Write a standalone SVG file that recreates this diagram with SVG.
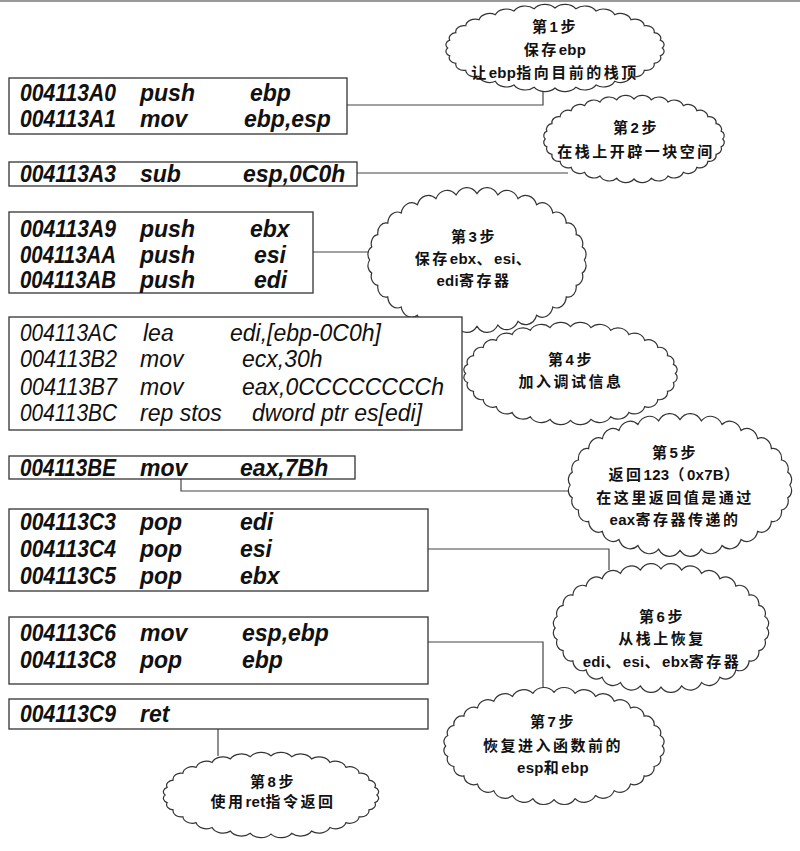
<svg xmlns="http://www.w3.org/2000/svg" xmlns:xlink="http://www.w3.org/1999/xlink" width="800" height="851" viewBox="0 0 800 851">
  <style>
    .box { fill: #fff; stroke: #333; stroke-width: 1.3; }
    .code { font-family: "Liberation Sans", Arial, sans-serif; font-size: 23px; font-style: italic; font-weight: bold; fill: #111; }
    .code.plain { font-weight: normal; }
    .note { font-family: "Liberation Sans", "Noto Sans CJK SC", sans-serif; font-size: 15px; font-weight: bold; fill: #111; text-anchor: middle; letter-spacing: 2.5px; }
    .lat { letter-spacing: 0.3px; }
    .wire { fill: none; stroke: #444; stroke-width: 1.2; }
    .cloud { fill: #fff; stroke: #333; stroke-width: 1.2; vector-effect: non-scaling-stroke; }
  </style>
  <defs>
    <!-- scalloped cloud outline, centred on 0,0, roughly 205 x 110 -->
    <path id="cloud" class="cloud" d="M100,0 A6.2,6.2 0 0 1 98.1,9.8 A6.8,6.8 0 0 1 92.4,19.1 A7.6,7.6 0 0 1 83.2,27.8 A9,9 0 0 1 70.7,35.4 A10,10 0 0 1 55.6,41.6 A11,11 0 0 1 38.3,46.2 A11.8,11.8 0 0 1 19.5,49 A12,12 0 0 1 0,50 A12,12 0 0 1 -19.5,49 A11.8,11.8 0 0 1 -38.3,46.2 A11,11 0 0 1 -55.6,41.6 A10,10 0 0 1 -70.7,35.4 A9,9 0 0 1 -83.2,27.8 A7.6,7.6 0 0 1 -92.4,19.1 A6.8,6.8 0 0 1 -98.1,9.8 A6.2,6.2 0 0 1 -100,0 A6.2,6.2 0 0 1 -98.1,-9.8 A6.8,6.8 0 0 1 -92.4,-19.1 A7.6,7.6 0 0 1 -83.2,-27.8 A9,9 0 0 1 -70.7,-35.4 A10,10 0 0 1 -55.6,-41.6 A11,11 0 0 1 -38.3,-46.2 A11.8,11.8 0 0 1 -19.5,-49 A12,12 0 0 1 0,-50 A12,12 0 0 1 19.5,-49 A11.8,11.8 0 0 1 38.3,-46.2 A11,11 0 0 1 55.6,-41.6 A10,10 0 0 1 70.7,-35.4 A9,9 0 0 1 83.2,-27.8 A7.6,7.6 0 0 1 92.4,-19.1 A6.8,6.8 0 0 1 98.1,-9.8 A6.2,6.2 0 0 1 100,0 Z"/>
  </defs>

  <rect width="800" height="851" fill="#fff"/>
  <line x1="0" y1="1" x2="800" y2="1" stroke="#999" stroke-width="2"/>

  <!-- connectors -->
  <g id="connectors">
    <path class="wire" d="M347,105 H543 V90"/>
    <path class="wire" d="M357,173 H568"/>
    <path class="wire" d="M313,252 H372"/>
    <path class="wire" d="M181,479 V491 H575"/>
    <path class="wire" d="M428,549 H609 V570"/>
    <path class="wire" d="M428,642 H543 V692"/>
    <path class="wire" d="M218,729 V756"/>
  </g>

  <!-- step notes -->
  <g id="step1">
    <use xlink:href="#cloud" transform="translate(555,48) scale(1.073,0.8)"/>
    <text class="note" x="555" y="32">第1步</text>
    <text class="note" x="555" y="55">保存<tspan class="lat">ebp</tspan></text>
    <text class="note" x="555" y="78">让<tspan class="lat">ebp</tspan>指向目前的栈顶</text>
  </g>
  <g id="step2">
    <use xlink:href="#cloud" transform="translate(634,139) scale(0.888,0.8)"/>
    <text class="note" x="636" y="133">第2步</text>
    <text class="note" x="636" y="157">在栈上开辟一块空间</text>
  </g>
  <g id="step3">
    <use xlink:href="#cloud" transform="translate(477,260) scale(1.073,1.327)"/>
    <text class="note" x="474" y="242">第3步</text>
    <text class="note" x="474" y="264">保存<tspan class="lat">ebx</tspan>、<tspan class="lat">esi</tspan>、</text>
    <text class="note" x="474" y="286"><tspan class="lat">edi</tspan>寄存器</text>
  </g>
  <g id="step4">
    <use xlink:href="#cloud" transform="translate(570.5,373.5) scale(1.049,0.936)"/>
    <text class="note" x="571" y="365">第4步</text>
    <text class="note" x="571" y="387">加入调试信息</text>
  </g>
  <g id="step5">
    <use xlink:href="#cloud" transform="translate(680,485) scale(1.098,1.309)"/>
    <text class="note" x="675" y="458">第5步</text>
    <text class="note" x="675" y="480">返回<tspan class="lat">123</tspan>（<tspan class="lat">0x7B</tspan>）</text>
    <text class="note" x="675" y="503">在这里返回值是通过</text>
    <text class="note" x="675" y="525"><tspan class="lat">eax</tspan>寄存器传递的</text>
  </g>
  <g id="step6">
    <use xlink:href="#cloud" transform="translate(661,628) scale(1.059,1.182)"/>
    <text class="note" x="662" y="622">第6步</text>
    <text class="note" x="662" y="644">从栈上恢复</text>
    <text class="note" x="662" y="667"><tspan class="lat">edi</tspan>、<tspan class="lat">esi</tspan>、<tspan class="lat">ebx</tspan>寄存器</text>
  </g>
  <g id="step7">
    <use xlink:href="#cloud" transform="translate(554,746) scale(1.083,1.073)"/>
    <text class="note" x="553" y="727">第7步</text>
    <text class="note" x="553" y="751">恢复进入函数前的</text>
    <text class="note" x="553" y="773"><tspan class="lat">esp</tspan>和<tspan class="lat">ebp</tspan></text>
  </g>
  <g id="step8">
    <use xlink:href="#cloud" transform="translate(271,795) scale(1.059,0.782)"/>
    <text class="note" x="273" y="787">第8步</text>
    <text class="note" x="273" y="807">使用<tspan class="lat">ret</tspan>指令返回</text>
  </g>

  <!-- instruction blocks -->
  <g id="block-prologue">
    <rect class="box" x="9" y="78" width="338" height="56"/>
    <text class="code" x="20" y="101" textLength="96" lengthAdjust="spacingAndGlyphs">004113A0</text><text class="code" x="140" y="101">push</text><text class="code" x="250" y="101">ebp</text>
    <text class="code" x="20" y="127" textLength="96" lengthAdjust="spacingAndGlyphs">004113A1</text><text class="code" x="140" y="127">mov</text><text class="code" x="244" y="127">ebp,esp</text>
  </g>
  <g id="block-sub">
    <rect class="box" x="9" y="162" width="348" height="24"/>
    <text class="code" x="20" y="182" textLength="96" lengthAdjust="spacingAndGlyphs">004113A3</text><text class="code" x="140" y="182">sub</text><text class="code" x="243" y="182">esp,0C0h</text>
  </g>
  <g id="block-push">
    <rect class="box" x="9" y="212" width="304" height="81"/>
    <text class="code" x="20" y="237" textLength="96" lengthAdjust="spacingAndGlyphs">004113A9</text><text class="code" x="140" y="237">push</text><text class="code" x="250" y="237">ebx</text>
    <text class="code" x="20" y="263" textLength="96" lengthAdjust="spacingAndGlyphs">004113AA</text><text class="code" x="140" y="263">push</text><text class="code" x="254" y="263">esi</text>
    <text class="code" x="20" y="288" textLength="96" lengthAdjust="spacingAndGlyphs">004113AB</text><text class="code" x="140" y="288">push</text><text class="code" x="254" y="288">edi</text>
  </g>
  <g id="block-debug">
    <rect class="box" x="9" y="317" width="453" height="113"/>
    <text class="code plain" x="20" y="341" textLength="97" lengthAdjust="spacingAndGlyphs">004113AC</text><text class="code plain" x="143" y="341">lea</text><text class="code plain" x="230" y="341">edi,[ebp-0C0h]</text>
    <text class="code plain" x="20" y="367" textLength="97" lengthAdjust="spacingAndGlyphs">004113B2</text><text class="code plain" x="140" y="367">mov</text><text class="code plain" x="242" y="367">ecx,30h</text>
    <text class="code plain" x="20" y="395" textLength="97" lengthAdjust="spacingAndGlyphs">004113B7</text><text class="code plain" x="140" y="395">mov</text><text class="code plain" x="242" y="395">eax,0CCCCCCCCh</text>
    <text class="code plain" x="20" y="421" textLength="97" lengthAdjust="spacingAndGlyphs">004113BC</text><text class="code plain" x="140" y="421">rep stos</text><text class="code plain" x="252" y="421">dword ptr es[edi]</text>
  </g>
  <g id="block-return-value">
    <rect class="box" x="9" y="456" width="346" height="23"/>
    <text class="code" x="20" y="476" textLength="96" lengthAdjust="spacingAndGlyphs">004113BE</text><text class="code" x="140" y="476">mov</text><text class="code" x="240" y="476">eax,7Bh</text>
  </g>
  <g id="block-pop">
    <rect class="box" x="9" y="509" width="419" height="82"/>
    <text class="code" x="20" y="530" textLength="96" lengthAdjust="spacingAndGlyphs">004113C3</text><text class="code" x="140" y="530">pop</text><text class="code" x="240" y="530">edi</text>
    <text class="code" x="20" y="557" textLength="96" lengthAdjust="spacingAndGlyphs">004113C4</text><text class="code" x="140" y="557">pop</text><text class="code" x="240" y="557">esi</text>
    <text class="code" x="20" y="584" textLength="96" lengthAdjust="spacingAndGlyphs">004113C5</text><text class="code" x="140" y="584">pop</text><text class="code" x="240" y="584">ebx</text>
  </g>
  <g id="block-epilogue">
    <rect class="box" x="9" y="617" width="419" height="67"/>
    <text class="code" x="20" y="641" textLength="96" lengthAdjust="spacingAndGlyphs">004113C6</text><text class="code" x="140" y="641">mov</text><text class="code" x="242" y="641">esp,ebp</text>
    <text class="code" x="20" y="668" textLength="96" lengthAdjust="spacingAndGlyphs">004113C8</text><text class="code" x="140" y="668">pop</text><text class="code" x="242" y="668">ebp</text>
  </g>
  <g id="block-ret">
    <rect class="box" x="9" y="699" width="419" height="30"/>
    <text class="code" x="20" y="722" textLength="96" lengthAdjust="spacingAndGlyphs">004113C9</text><text class="code" x="140" y="722">ret</text>
  </g>
</svg>
